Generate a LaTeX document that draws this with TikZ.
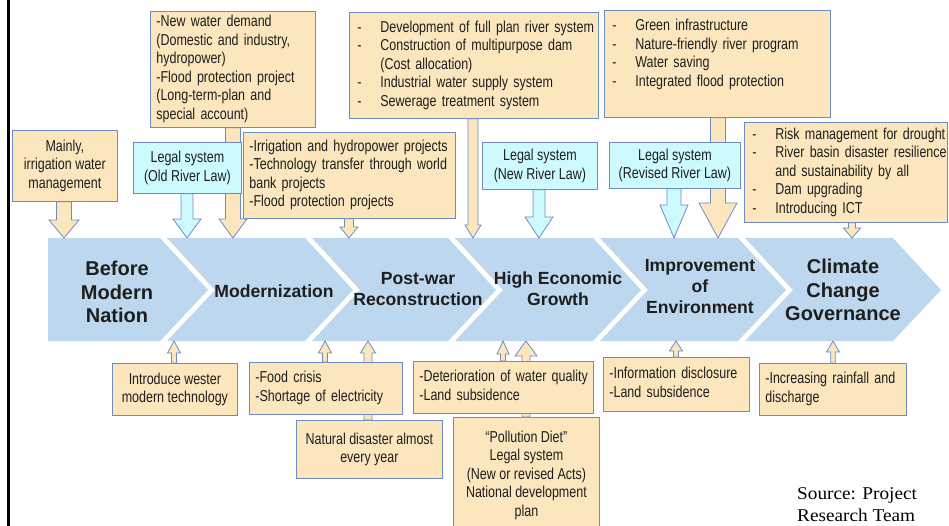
\documentclass[tikz,border=0pt]{standalone}
\usepackage{fontspec}
\usepackage{xcolor}
\usepackage{tikz}
\usetikzlibrary{calc, positioning}

\newfontfamily\bodyfont{Liberation Sans}[FakeStretch=0.79]
\newfontfamily\headfont{Liberation Sans}
\newfontfamily\srcfont{Liberation Serif}[FakeStretch=1.07]

\definecolor{bandblue}{RGB}{189,215,238}
\definecolor{tanfill}{RGB}{252,230,190}
\definecolor{legalcyan}{RGB}{204,250,255}
\definecolor{edgeblue}{RGB}{110,140,195}
\definecolor{textgray}{RGB}{30,30,30}

\newcommand{\boxtext}{\bodyfont\fontsize{15.8}{18.5}\selectfont}
\newcommand{\phasetext}{\headfont\bfseries\fontsize{17.6}{21}\selectfont}
\newcommand{\bigphasetext}{\headfont\bfseries\fontsize{20}{23.5}\selectfont}
\newcommand{\bul}{\makebox[23pt][l]{-}}
\newcommand{\contind}{\hspace*{23pt}}
\newcommand{\rows}[1]{\begin{tabular}{@{}l@{}}#1\end{tabular}}
\newcommand{\blockarrow}[7]{%
  \coordinate (ba-s) at (#2,0 |- #3);
  \coordinate (ba-e) at (#2,0 |- #4);
  \draw[#1] ($(ba-s)+(-#5,0)$) -- ($(ba-e)+(-#5,#7)$) -- ($(ba-e)+(-#6,#7)$) -- (ba-e)
    -- ($(ba-e)+(#6,#7)$) -- ($(ba-e)+(#5,#7)$) -- ($(ba-s)+(#5,0)$) -- cycle;}

\begin{document}
\begin{tikzpicture}[x=1pt, y=-1pt,
    tanbox/.style={draw=edgeblue, fill=tanfill, line width=0.8pt, anchor=north west, inner xsep=6pt, inner ysep=2pt, text=textgray, font=\boxtext},
    legalbox/.style={tanbox, fill=legalcyan, align=center},
    bullbox/.style={tanbox, inner xsep=8pt, align=left},
    phase/.style={align=center, text=textgray, font=\phasetext},
    tanarrow/.style={draw=edgeblue, fill=tanfill, line width=0.8pt},
    cyanarrow/.style={tanarrow, fill=legalcyan}
]
    \useasboundingbox (0,0) rectangle (949,526);
    \draw[line width=2.6pt] (8.3,0) -- (8.3,526);

    \fill[bandblue] (48,238) -- (160,238) -- (208,290) -- (160,341) -- (48,341) -- cycle;
    \foreach \s/\e in {167/305, 312/448, 455/593, 600/738, 745/893}
        \fill[bandblue] (\s,238) -- (\e,238) -- (\e+48,290) -- (\e,341) -- (\s,341) -- (\s+48,290) -- cycle;
    \coordinate (bandtop) at (0,238);
    \coordinate (bandbot) at (0,341);

    \node[phase, font=\bigphasetext] (prenation) at (117,292) {Before\\Modern\\Nation};
    \node[phase] (modern)     at (274,291) {Modernization};
    \node[phase] (postwarph)  at (418,289) {Post-war\\Reconstruction};
    \node[phase] (highgrowth) at (558,289) {High Economic\\Growth};
    \node[phase] (improve)    at (700,287) {Improvement\\of\\Environment};
    \node[phase, font=\bigphasetext] (climatech) at (843,290) {Climate\\Change\\Governance};

    \node[tanbox, align=center, minimum width=105pt, minimum height=71pt] (mainly) at (12,130) {Mainly,\\irrigation water\\management};
    \node[tanbox, align=left, text width=153pt, minimum width=165pt, minimum height=116pt] (demand) at (150,11)
        {\rows{-New water demand\\(Domestic and industry,\\hydropower)\\-Flood protection project\\(Long-term-plan and\\special account)}};
    \node[tanbox, align=left, text width=200pt, minimum width=212pt, minimum height=86pt] (postwar) at (243,132)
        {\rows{-Irrigation and hydropower projects\\-Technology transfer through world\\bank projects\\-Flood protection projects}};
    \node[bullbox, text width=233pt, minimum width=249pt, minimum height=106pt] (growth) at (349,12)
        {\rows{\bul Development of full plan river system\\ \bul Construction of multipurpose dam\\ \contind(Cost allocation)\\ \bul Industrial water supply system\\ \bul Sewerage treatment system}};
    \node[bullbox, text width=210pt, minimum width=226pt, minimum height=107pt] (environ) at (604,10)
        {\rows{\bul Green infrastructure\\ \bul Nature-friendly river program\\ \bul Water saving\\ \bul Integrated flood protection\\ \mbox{}}};
    \node[bullbox, text width=187pt, minimum width=203pt, minimum height=100pt] (climate) at (744,122)
        {\rows{\bul Risk management for drought\\ \bul River basin disaster resilience\\ \contind and sustainability by all\\ \bul Dam upgrading\\ \bul Introducing ICT}};

    \blockarrow{tanarrow}{64}{mainly.south}{bandtop}{7.5}{15}{-18}
    \blockarrow{tanarrow}{233}{demand.south}{bandtop}{7.5}{14}{-19}
    \blockarrow{tanarrow}{349}{postwar.south}{bandtop}{4.5}{9}{-11}
    \blockarrow{tanarrow}{473}{growth.south}{bandtop}{5}{8}{-13}
    \blockarrow{tanarrow}{718}{environ.south}{bandtop}{7.5}{19}{-35}
    \blockarrow{tanarrow}{852}{climate.south}{bandtop}{3.5}{8.5}{-10}

    \node[legalbox, minimum width=108pt, minimum height=51pt] (oldlaw) at (133,142) {Legal system\\(Old River Law)};
    \node[legalbox, minimum width=115pt, minimum height=47pt] (newlaw) at (482,142) {Legal system\\(New River Law)};
    \node[legalbox, minimum width=131pt, minimum height=46pt] (revlaw) at (609,142) {Legal system\\(Revised River Law)};

    \blockarrow{cyanarrow}{187}{oldlaw.south}{bandtop}{6}{14}{-19}
    \blockarrow{cyanarrow}{539}{newlaw.south}{bandtop}{6}{14}{-21}
    \blockarrow{cyanarrow}{674}{revlaw.south}{bandtop}{7}{14}{-33}

    \node[tanbox, align=center, minimum width=125pt, minimum height=52pt] (wester) at (112,363) {Introduce wester\\modern technology};
    \node[tanbox, align=center, minimum width=146pt, minimum height=58pt] (disaster) at (296,420) {Natural disaster almost\\every year};
    \blockarrow{tanarrow}{368}{disaster.north}{bandbot}{4}{7.5}{12}
    \node[tanbox, align=left, text width=141pt, minimum width=153pt, minimum height=52pt] (foodcrisis) at (249,362)
        {\rows{-Food crisis\\-Shortage of electricity}};
    \node[tanbox, align=center, minimum width=146pt, minimum height=116pt] (pollution) at (453,417)
        {“Pollution Diet”\\Legal system\\(New or revised Acts)\\National development\\plan};
    \blockarrow{tanarrow}{526}{pollution.north}{bandbot}{4}{11}{15}
    \node[tanbox, align=left, text width=168pt, minimum width=180pt, minimum height=52pt] (quality) at (413,361)
        {\rows{-Deterioration of water quality\\-Land subsidence}};
    \node[tanbox, align=left, text width=134pt, minimum width=146pt, minimum height=54pt] (disclosure) at (603,357)
        {\rows{-Information disclosure\\-Land subsidence}};
    \node[tanbox, align=left, text width=135pt, minimum width=147pt, minimum height=52pt] (rainfall) at (759,363)
        {\rows{-Increasing rainfall and\\discharge}};

    \blockarrow{tanarrow}{174}{wester.north}{bandbot}{2.5}{6.5}{12}
    \blockarrow{tanarrow}{325}{foodcrisis.north}{bandbot}{2.5}{6.5}{12}
    \blockarrow{tanarrow}{503}{quality.north}{bandbot}{2.5}{6}{13}
    \blockarrow{tanarrow}{676}{disclosure.north}{bandbot}{2.5}{6.5}{10}
    \blockarrow{tanarrow}{833}{rainfall.north}{bandbot}{2.2}{6.5}{11}

    \node[anchor=north west, inner sep=0pt, align=left, text=black, font={\srcfont\fontsize{18}{22}\selectfont}] (source) at (797,487) {Source: Project\\Research Team};
\end{tikzpicture}
\end{document}
